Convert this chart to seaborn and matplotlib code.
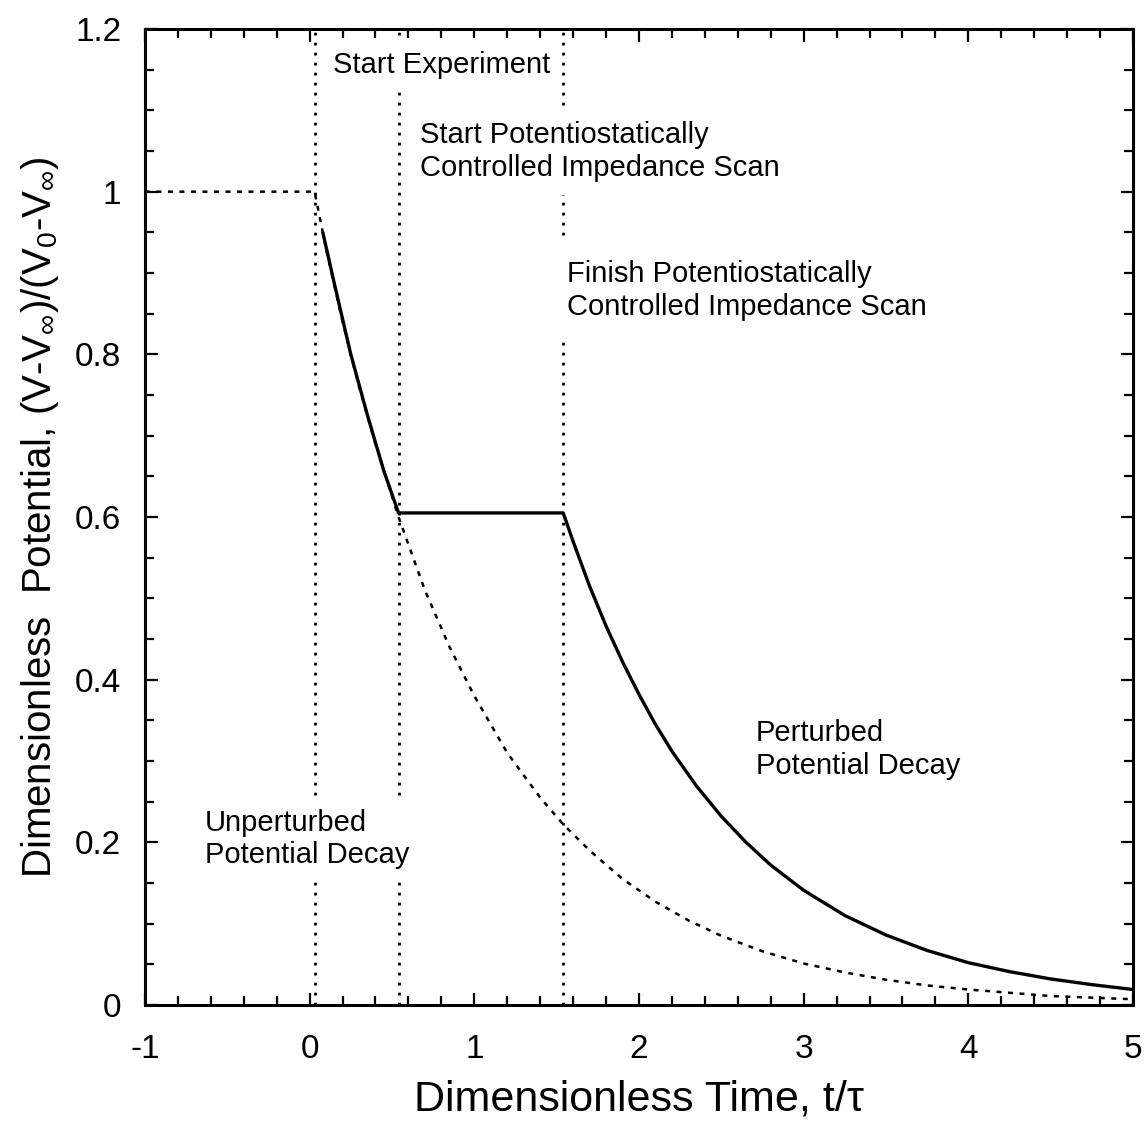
import matplotlib
matplotlib.use("Agg")
import matplotlib.pyplot as plt
from matplotlib.ticker import MultipleLocator
import pandas as pd
import seaborn as sns

# Unperturbed potential: held at 1 before the start, then free decay
t_free = [-1.0, 0.03, 0.1, 0.2, 0.3, 0.4, 0.54, 0.7, 0.85, 1.0, 1.2, 1.4, 1.54,
          1.7, 1.9, 2.1, 2.3, 2.5, 2.75, 3.0, 3.25, 3.5, 3.75, 4.0, 4.5, 5.0]
v_free = [1.0, 1.0, 0.93, 0.84, 0.76, 0.69, 0.60, 0.51, 0.44, 0.38, 0.31,
          0.255, 0.222, 0.19, 0.155, 0.127, 0.104, 0.085, 0.066, 0.051, 0.040,
          0.031, 0.024, 0.019, 0.011, 0.007]

# Perturbed potential: decay, hold during the impedance scan, decay again
t_pert = [0.08, 0.15, 0.25, 0.35, 0.45, 0.54, 1.54, 1.6, 1.7, 1.8, 1.9, 2.0,
          2.1, 2.2, 2.35, 2.5, 2.65, 2.8, 3.0, 3.25, 3.5, 3.75, 4.0, 4.25, 4.5,
          4.75, 5.0]
v_pert = [0.95, 0.887, 0.80, 0.726, 0.657, 0.605, 0.605, 0.57, 0.515, 0.466,
          0.422, 0.382, 0.345, 0.312, 0.269, 0.232, 0.200, 0.172, 0.141, 0.110,
          0.086, 0.067, 0.052, 0.041, 0.032, 0.025, 0.019]

# Event markers: start experiment, start scan, finish scan
t_events = [0.03, 0.54, 1.54]

x_ticks = [-1, 0, 1, 2, 3, 4, 5]
y_ticks = [0, 0.2, 0.4, 0.6, 0.8, 1.0, 1.2]
y_tick_labels = ["0", "0.2", "0.4", "0.6", "0.8", "1", "1.2"]

sns.set_theme(style="ticks")
plt.rcParams["font.family"] = ["Liberation Sans", "DejaVu Sans"]
plt.rcParams["mathtext.fontset"] = "custom"
plt.rcParams["mathtext.rm"] = "Liberation Sans"
plt.rcParams["mathtext.it"] = "Liberation Sans:italic"
plt.rcParams["mathtext.bf"] = "Liberation Sans:bold"
for key in ("text.color", "axes.labelcolor", "xtick.color", "ytick.color",
            "axes.edgecolor"):
    plt.rcParams[key] = "black"

fig = plt.figure(figsize=(11.45, 11.25), dpi=100)
ax = fig.add_axes([0.1266, 0.1067, 0.8629, 0.8675])

free_df = pd.DataFrame({"t": t_free, "v": v_free})
pert_df = pd.DataFrame({"t": t_pert, "v": v_pert})

for te in t_events:
    ax.axvline(te, color="black", lw=2.0, linestyle=(0, (1, 2.6)), zorder=1)

sns.lineplot(data=free_df, x="t", y="v", ax=ax, color="black", lw=1.8,
             linestyle=(0, (2, 2.6)), estimator=None, sort=False, zorder=2)
sns.lineplot(data=pert_df, x="t", y="v", ax=ax, color="black", lw=2.4,
             estimator=None, sort=False, zorder=3)

ax.set_xlim(-1, 5)
ax.set_ylim(0, 1.2)
ax.set_xticks(x_ticks)
ax.set_xticklabels([str(v) for v in x_ticks])
ax.set_yticks(y_ticks)
ax.set_yticklabels(y_tick_labels)
ax.xaxis.set_minor_locator(MultipleLocator(0.2))
ax.yaxis.set_minor_locator(MultipleLocator(0.05))
ax.tick_params(which="both", direction="in", top=True, right=True,
               color="black", width=1.6)
ax.tick_params(which="major", length=9, labelsize=24)
ax.tick_params(axis="x", which="major", pad=21)
ax.tick_params(axis="y", which="major", pad=17)
ax.tick_params(which="minor", length=6.5)
for s in ax.spines.values():
    s.set_linewidth(2.2)
    s.set_color("black")

ax.set_xlabel("Dimensionless Time, t/τ", fontsize=31, labelpad=10)
ax.set_ylabel(r"Dimensionless  Potential, (V-V$_\infty$)/(V$_0$-V$_\infty$)",
              fontsize=29, labelpad=10)

box = dict(facecolor="white", edgecolor="none", pad=9)
txt = dict(fontsize=21, color="black", ha="left", va="center",
           linespacing=1.22, bbox=box, zorder=4)
ax.text(0.14, 1.156, "Start Experiment", **txt)
ax.text(0.67, 1.049, "Start Potentiostatically\nControlled Impedance Scan", **txt)
ax.text(1.565, 0.879, "Finish Potentiostatically\nControlled Impedance Scan",
        **{**txt, "bbox": dict(facecolor="white", edgecolor="none", pad=13)})
ax.text(2.71, 0.314, "Perturbed\nPotential Decay", **txt)
ax.text(-0.635, 0.204, "Unperturbed\nPotential Decay", **txt)

fig.savefig("out.png", dpi=100, facecolor="white")
